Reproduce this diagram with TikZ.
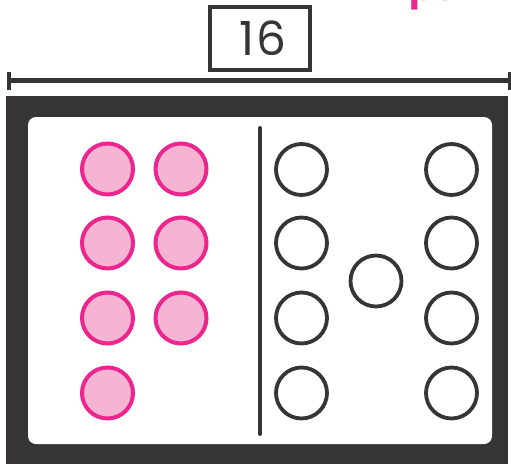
\documentclass[tikz,border=0pt]{standalone}
\usepackage{fontspec}
\setmainfont{Poppins}
\definecolor{dark}{HTML}{373435}
\definecolor{pinkline}{HTML}{EC268F}
\definecolor{pinkfill}{HTML}{F5B4D2}
\begin{document}
\begin{tikzpicture}[x=1pt,y=-1pt,
  pinkdot/.style={circle,draw=pinkline,fill=pinkfill,line width=4pt,minimum size=51pt,inner sep=0pt},
  ringdot/.style={circle,draw=dark,fill=white,line width=3.8pt,minimum size=51pt,inner sep=0pt},
  dimline/.style={draw=dark,line width=5pt},
  dimtick/.style={draw=dark,line width=4pt}]
\useasboundingbox (0,0) rectangle (511,464);
% partial pink label at the top edge
\node[anchor=base west,inner sep=0pt,text=pinkline,font=\bfseries\fontsize{36}{36}\selectfont] (toplabel) at (409.5,0) {pe};
% dimension line
\coordinate (dl) at (9,80);
\coordinate (dr) at (509.5,80);
\draw[dimline] (dl) -- (dr);
\draw[dimtick] (9,72) -- (9,90);
\draw[dimtick] (509.5,72) -- (509.5,90);
% value box
\draw[dark,line width=4.5pt] (210,7) rectangle (310,70);
\node[inner sep=0pt,text=dark,font=\fontsize{47}{47}\selectfont] (val) at (263,38.5) {1\kern2pt6};
% frame
\fill[dark] (6,96) rectangle (508,464);
\fill[white,rounded corners=8pt] (28,117) rectangle (492,444);
% divider
\coordinate (vtop) at (260,128);
\coordinate (vbot) at (260,434);
\draw[dark,line width=4pt,line cap=round] (vtop) -- (vbot);
% pink dots
\node[pinkdot] (p1) at (107.5,169) {};
\node[pinkdot] (p2) at (181,169) {};
\node[pinkdot] (p3) at (107.5,243) {};
\node[pinkdot] (p4) at (181,243) {};
\node[pinkdot] (p5) at (107.5,318) {};
\node[pinkdot] (p6) at (181,318) {};
\node[pinkdot] (p7) at (107.5,393) {};
% rings
\node[ringdot] (r1) at (301.5,169.5) {};
\node[ringdot] (r2) at (301.5,243) {};
\node[ringdot] (r3) at (301.5,318) {};
\node[ringdot] (r4) at (301.5,393) {};
\node[ringdot] (r5) at (376,281) {};
\node[ringdot] (r6) at (451.5,169.5) {};
\node[ringdot] (r7) at (451.5,243) {};
\node[ringdot] (r8) at (451.5,318) {};
\node[ringdot] (r9) at (451.5,393) {};
\end{tikzpicture}
\end{document}
